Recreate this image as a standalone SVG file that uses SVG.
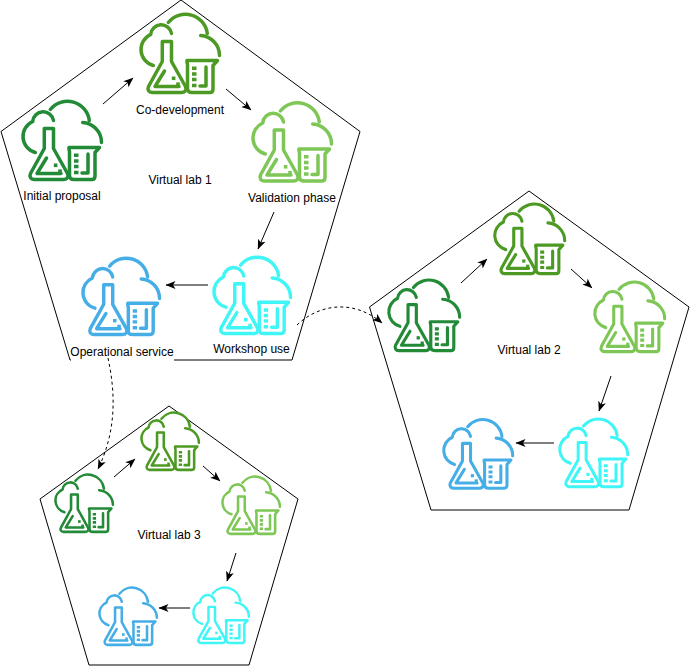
<svg xmlns="http://www.w3.org/2000/svg" width="691" height="666" viewBox="0 0 691 666">
<style>
text{font-family:"Liberation Sans",Arial,sans-serif;font-size:12px;fill:#000;text-anchor:middle}
.pent{fill:none;stroke:#000;stroke-width:1}
.bg{fill:#fff;stroke:none}
.a{fill:none;stroke:#000;stroke-width:1;marker-end:url(#arr)}
.d{fill:none;stroke:#000;stroke-width:1;stroke-dasharray:3 3;marker-end:url(#arr)}
.ic{fill:none;stroke:currentColor;stroke-width:3.5;stroke-linecap:round;stroke-linejoin:round}
.sq{fill:none;stroke:currentColor;stroke-width:3.5;stroke-linecap:butt}
.dot{fill:currentColor;stroke:none}
.g1{color:#238a37}.g2{color:#4c9a23}.g3{color:#7ec756}.c{color:#3ff5f5}.b{color:#46aee6}
</style>
<defs>
<marker id="arr" markerWidth="11" markerHeight="10" refX="9.5" refY="4.5" orient="auto" markerUnits="userSpaceOnUse"><path d="M0 0.5L10 4.5L0 8.5L2.5 4.5Z" fill="#000"/></marker>
<symbol id="lab" viewBox="0 0 82 82" overflow="visible">
<path class="ic" d="M14.3 53.5A16.5 16.5 0 0 1 11.7 22.5A10.5 10.5 0 0 1 32.5 21.5"/>
<path class="ic" d="M29.3 10.5A22 22 0 0 1 68.3 21.5"/>
<path class="ic" d="M61.7 23.5A20 20 0 0 1 80.5 43.5"/>
<path class="ic" d="M23.3 29.5H32.5V49.5L46.5 74.5C48 78 46 80.5 43 80.5H13C10 80.5 8 78 9.5 74.5L23.3 49.5Z"/>
<path class="ic" d="M25.5 59L16 74.5H40"/>
<rect class="dot" x="32.8" y="64.5" width="3.6" height="3.6"/><rect class="dot" x="37.2" y="70.4" width="3.6" height="3.6"/>
<path class="ic" d="M48 48.5H78.5L74 53.5V77C74 79.5 72.5 80.5 71 80.5H53C50 80.5 48.5 79 48.5 76.5V53C48.5 51 47.5 50 48 48.5Z"/>
<path class="ic" d="M67 55V74H61"/>
<path class="sq" d="M53 56.3H57.5M53 62H57.5M53 67.5H57.5M53 73.5H57.5"/>
</symbol>
</defs>
<g id="pentagons">
<path id="vl1" class="pent" d="M181 0L360 131.5L292 360H70L1 131.5Z"/>
<path id="vl2" class="pent" d="M529 191L689 307L629 510H431L369.500 307Z"/>
<path id="vl3" class="pent" d="M169 406L298 499L249 665H89L40 499Z"/>
</g>
<g id="nodes">
<g id="initial-proposal" class="g1"><use href="#lab" x="21" y="99" width="82" height="82"/><rect class="bg" x="23" y="189" width="78" height="14"/><text x="62" y="200">Initial proposal</text></g>
<g id="co-development" class="g2"><use href="#lab" x="139" y="12" width="82" height="82"/><rect class="bg" x="136" y="102" width="88" height="14"/><text x="180" y="114">Co-development</text></g>
<g id="validation-phase" class="g3"><use href="#lab" x="251" y="100.500" width="82" height="82"/><rect class="bg" x="248" y="191" width="88" height="14"/><text x="292" y="202">Validation phase</text></g>
<g id="workshop-use" class="c"><use href="#lab" x="212" y="255" width="80" height="80"/><text x="251.500" y="353">Workshop use</text></g>
<g id="operational-service" class="b"><use href="#lab" x="81" y="255" width="80" height="82"/><rect class="bg" x="71" y="345" width="103" height="16"/><text x="122" y="356">Operational service</text></g>
<g id="lab2-1" class="g1"><use href="#lab" x="387" y="278" width="74" height="74"/></g>
<g id="lab2-2" class="g2"><use href="#lab" x="493" y="202" width="73" height="73"/></g>
<g id="lab2-3" class="g3"><use href="#lab" x="593" y="280" width="73" height="73"/></g>
<g id="lab2-4" class="c"><use href="#lab" x="558" y="417" width="71" height="71"/></g>
<g id="lab2-5" class="b"><use href="#lab" x="442" y="417" width="72" height="73"/></g>
<g id="lab3-1" class="g1"><use href="#lab" x="54" y="473" width="60" height="60"/></g>
<g id="lab3-2" class="g2"><use href="#lab" x="140" y="411" width="60" height="60"/></g>
<g id="lab3-3" class="g3"><use href="#lab" x="221" y="475" width="60" height="60"/></g>
<g id="lab3-4" class="c"><use href="#lab" x="192" y="586" width="58" height="58"/></g>
<g id="lab3-5" class="b"><use href="#lab" x="98" y="586" width="60" height="60"/></g>
</g>
<g id="labels"><text x="180" y="184">Virtual lab 1</text><text x="529" y="354">Virtual lab 2</text><text x="169" y="539">Virtual lab 3</text></g>
<g id="connectors">
<path class="a" d="M103 104L133 78"/>
<path class="a" d="M226 89L251 110"/>
<path class="a" d="M274 212L258 249"/>
<path class="a" d="M208 285H166"/>
<path class="a" d="M461 283L487 259"/>
<path class="a" d="M571 269L592 288"/>
<path class="a" d="M611 376L599 411"/>
<path class="a" d="M554 443H516"/>
<path class="a" d="M114 477L135 459"/>
<path class="a" d="M203 466L220 481"/>
<path class="a" d="M236 553L227 581"/>
<path class="a" d="M190 608H159"/>
<path class="d" d="M297 325C318 305 352 298 382 323"/>
<path class="d" d="M108 358C116 395 116 432 98 469"/>
</g>
</svg>
